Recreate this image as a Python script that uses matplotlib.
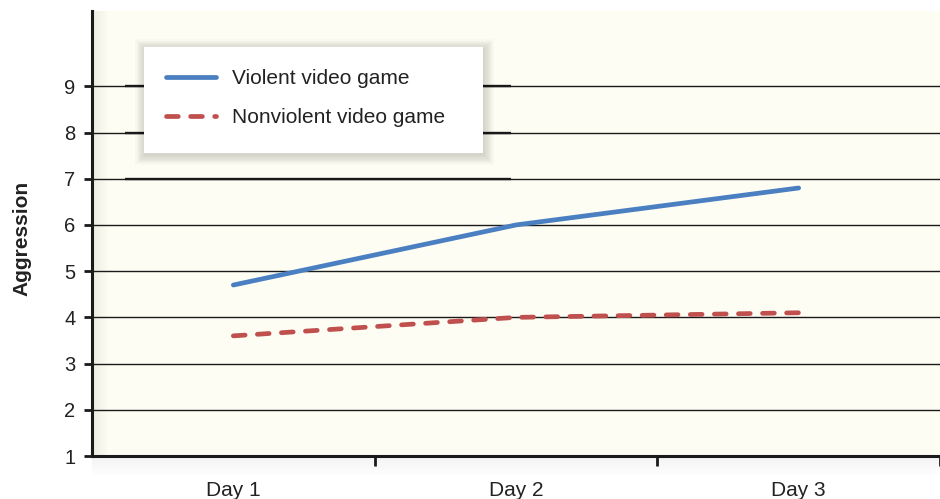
import numpy as np
import matplotlib
matplotlib.use("Agg")
import matplotlib.pyplot as plt
from matplotlib.patches import Rectangle

plt.rcParams['font.family'] = ['Liberation Sans', 'DejaVu Sans']

days = ['Day 1', 'Day 2', 'Day 3']
violent = [4.7, 6.0, 6.8]
nonviolent = [3.6, 4.0, 4.1]
yticks = [1, 2, 3, 4, 5, 6, 7, 8, 9]

blue = '#4a7fc1'
red = '#c0504d'

fig = plt.figure(figsize=(9.4, 4.99), dpi=100)
W, H = 940.0, 499.0
ax = fig.add_axes([92 / W, 1 - 456 / H, 848 / W, 445 / H])
ax.set_facecolor('#fdfdf4')

x = np.arange(len(days))
ax.set_xlim(-0.5, -0.5 + 848 / 284.0)
ax.set_ylim(1, 10.63)

# soft shading: just inside the left axis and just below the bottom axis
grad = np.linspace(0.07, 0.0, 64).reshape(1, -1)
ax.imshow(np.dstack([np.zeros((1, 64, 3)), grad[..., None]]), aspect='auto',
          extent=(-0.5, -0.5 + 18 / 284.0, 1, 10.63), zorder=0.5,
          interpolation='bilinear')
sh = fig.add_axes([92 / W, 1 - 478 / H, 848 / W, 22 / H], zorder=-1)
sh.imshow(np.dstack([np.zeros((64, 1, 3)), np.linspace(0.05, 0.0, 64)[:, None, None]]),
          aspect='auto', extent=(0, 1, 0, 1), interpolation='bilinear')
sh.set_axis_off()

# grid lines
for g in yticks[1:]:
    ax.axhline(g, color='#1a1a1a', lw=1.0, zorder=1)
ax.hlines([7, 8, 9], -0.5 + 33 / 284.0, -0.5 + 421 / 284.0,
          color='#1a1a1a', lw=1.7, zorder=1)

ax.plot(x, violent, color=blue, lw=3.4, solid_capstyle='round',
        label='Violent video game', zorder=3)
ax.plot(x, nonviolent, color=red, lw=3.4, dashes=(2.5, 2.6),
        dash_capstyle='round', label='Nonviolent video game', zorder=3)

for s in ['top', 'right']:
    ax.spines[s].set_visible(False)
for s in ['left', 'bottom']:
    ax.spines[s].set_linewidth(2.2)
    ax.spines[s].set_color('#1a1a1a')

ax.set_yticks(yticks)
ax.tick_params(axis='y', length=6, width=2, color='#1a1a1a', pad=6,
               labelsize=14.5, labelcolor='#222222')
ax.set_xticks(x)
ax.set_xticklabels(days)
ax.set_xticks([0.5, 1.5, 2.5], minor=True)
ax.tick_params(axis='x', which='major', length=0, pad=18,
               labelsize=15, labelcolor='#222222')
ax.tick_params(axis='x', which='minor', length=7, width=2, color='#1a1a1a')

# legend box with soft shadow
def fx(px):
    return (px - 92) / 848.0

def fy(py):
    return (456 - py) / 445.0

for k in range(8, 0, -1):
    d = k * 1.2
    ax.add_patch(Rectangle((fx(144 - d + 1), fy(153 + d + 2)),
                           fx(483 + d + 1) - fx(144 - d + 1),
                           fy(47 - d + 2) - fy(153 + d + 2),
                           transform=ax.transAxes, facecolor='black',
                           edgecolor='none', alpha=0.018, zorder=3.5))
ax.add_patch(Rectangle((fx(144), fy(153)), fx(483) - fx(144), fy(47) - fy(153),
                       transform=ax.transAxes, facecolor='white',
                       edgecolor='none', zorder=4))

leg = ax.legend(loc='upper left', bbox_to_anchor=(fx(166), fy(69)),
                borderaxespad=0, borderpad=0, frameon=False, fontsize=15,
                handlelength=2.4, handletextpad=0.75, labelspacing=0.95)
leg.set_zorder(5)
for t in leg.get_texts():
    t.set_color('#222222')

fig.text(22 / W, 1 - 238 / H, 'Aggression', rotation=90, ha='center',
         va='center', fontsize=15, fontweight='bold', color='#222222')

fig.savefig('out.png', dpi=100)
